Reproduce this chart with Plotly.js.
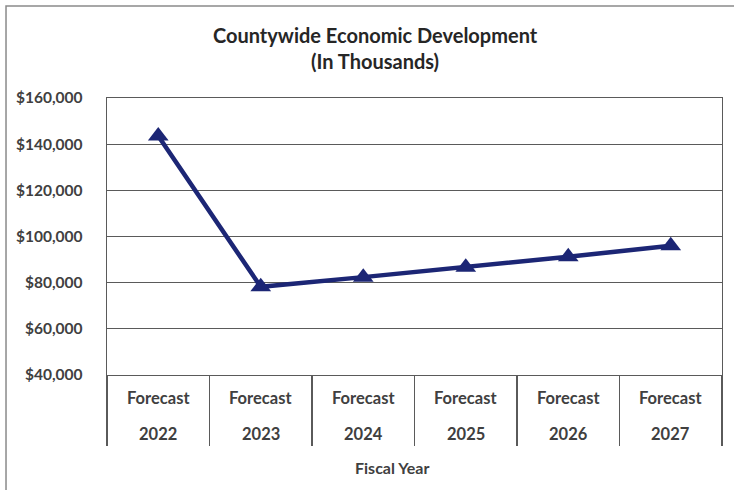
<!DOCTYPE html>
<html>
<head>
<meta charset="utf-8">
<script src="https://cdn.plot.ly/plotly-3.0.1.min.js"></script>
<style>html,body{margin:0;padding:0;background:#fff;}#chart{width:734px;height:490px;}</style>
</head>
<body>
<div id="chart"></div>
<script>
const categories = ["2022", "2023", "2024", "2025", "2026", "2027"];
const labelTop = "Forecast";
const values = [143500, 78200, 82400, 86700, 91200, 96000];
const yTicks = [40000, 60000, 80000, 100000, 120000, 140000, 160000];
const yTickText = ["$40,000", "$60,000", "$80,000", "$100,000", "$120,000", "$140,000", "$160,000"];
const chartTitle = "Countywide Economic Development<br>(In Thousands)";
const xTitle = "Fiscal Year";

const FONT = "Lato, 'Open Sans', sans-serif";
const TXT = "#404040";
const GRID = "#5a5a5a";

const trace = {
  x: categories,
  y: values,
  type: "scatter",
  mode: "lines+markers",
  line: {color: "#1c2675", width: 4.5},
  marker: {symbol: "triangle-up", size: 18, color: "#1c2675"},
  hoverinfo: "skip"
};

const annotations = [];
categories.forEach((c, i) => {
  const xp = (i + 0.5) / categories.length;
  annotations.push({x: xp, xref: "paper", y: -0.083, yref: "paper", text: "<b>" + labelTop + "</b>",
    showarrow: false, xanchor: "center", yanchor: "middle", font: {family: FONT, size: 16.5, color: TXT}});
  annotations.push({x: xp, xref: "paper", y: -0.213, yref: "paper", text: "<b>" + c + "</b>",
    showarrow: false, xanchor: "center", yanchor: "middle", font: {family: FONT, size: 16.5, color: TXT}});
});
annotations.push({x: 0.463, xref: "paper", y: -0.335, yref: "paper", text: "<b>" + xTitle + "</b>",
  showarrow: false, xanchor: "center", yanchor: "middle", font: {family: FONT, size: 16, color: TXT}});

const layout = {
  width: 734, height: 490,
  margin: {l: 107, r: 12, t: 98, b: 115},
  paper_bgcolor: "#fff", plot_bgcolor: "#fff",
  showlegend: false,
  title: {text: "<b>" + chartTitle + "</b>", x: 0.511, xref: "container", xanchor: "center",
    y: 0.912, yref: "container", yanchor: "middle",
    font: {family: FONT, size: 20, color: "#262626"}},
  xaxis: {
    type: "category", range: [-0.5, 5.5], fixedrange: true,
    showticklabels: false, showgrid: false, zeroline: false,
    tickson: "boundaries", ticks: "outside", ticklen: 70, tickwidth: 1.3, tickcolor: GRID,
    showline: true, mirror: true, linecolor: GRID, linewidth: 1.3
  },
  yaxis: {
    range: [40000, 160000], fixedrange: true,
    tickvals: yTicks, ticktext: yTickText.map(t => "<b>" + t + "</b>"),
    ticks: "", ticklabelstandoff: 20,
    tickfont: {family: FONT, size: 15.5, color: TXT},
    showgrid: true, gridcolor: GRID, gridwidth: 1.3, zeroline: false,
    showline: true, mirror: true, linecolor: GRID, linewidth: 1.3
  },
  annotations: annotations,
  shapes: [{type: "rect", xref: "paper", yref: "paper", x0: -0.1642, x1: 1.1, y0: -0.45, y1: 1.332,
    line: {color: "#8a8a8a", width: 1.5}, layer: "below"}]
};

Plotly.newPlot("chart", [trace], layout, {staticPlot: true, displayModeBar: false});
</script>
</body>
</html>
